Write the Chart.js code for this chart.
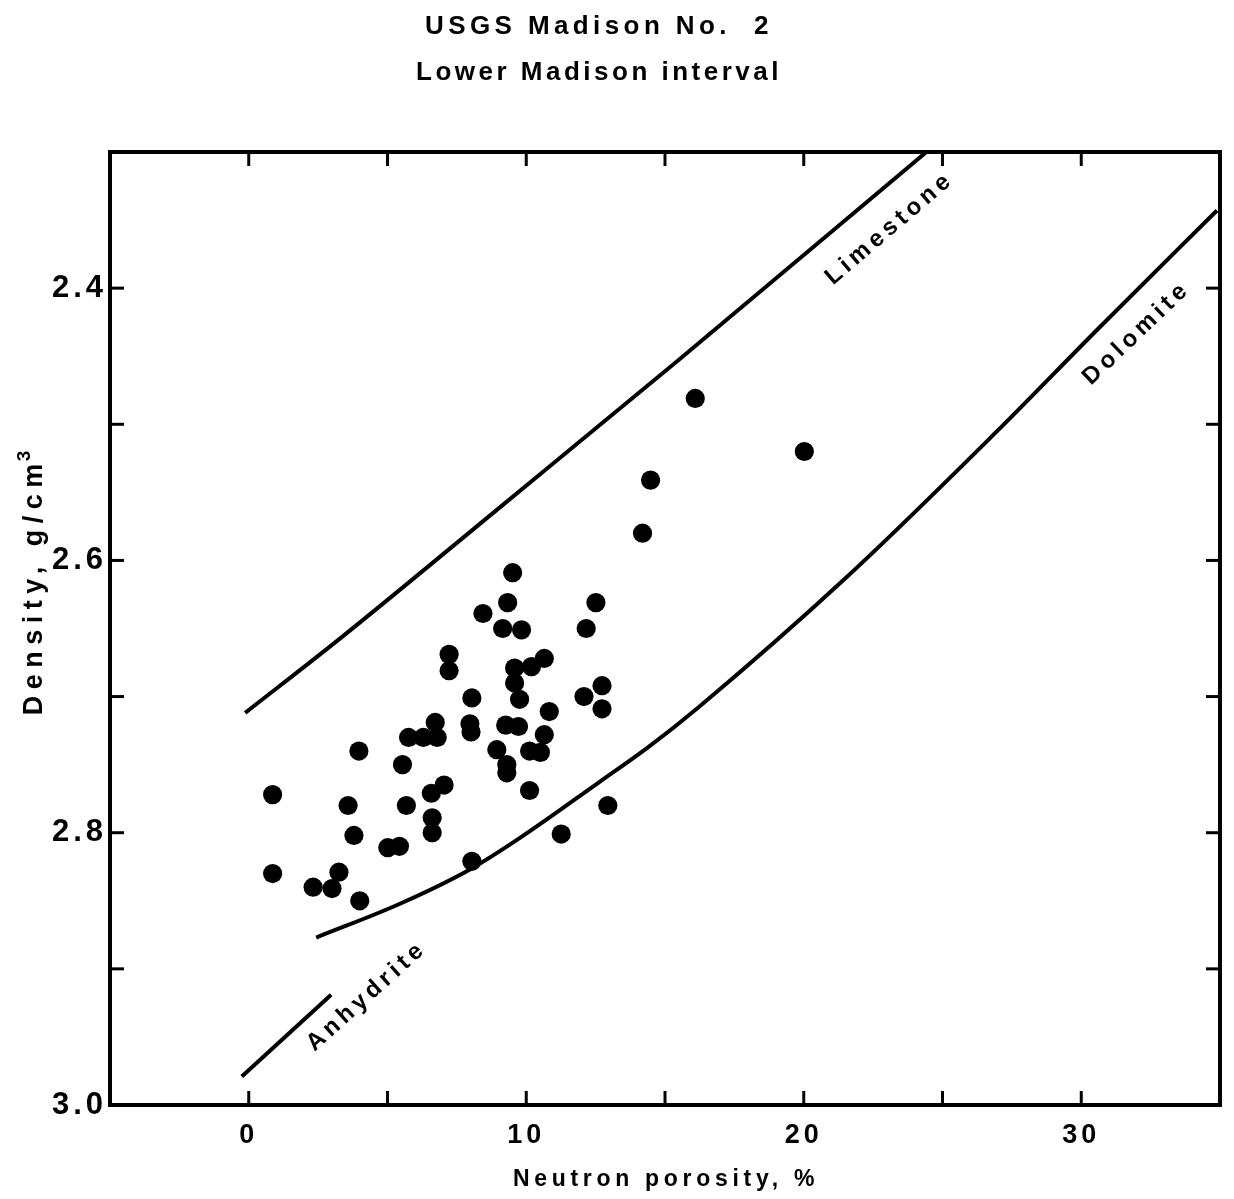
<!DOCTYPE html>
<html><head><meta charset="utf-8">
<script src="https://cdn.jsdelivr.net/npm/chart.js@4.4.1/dist/chart.umd.min.js"></script>
<style>html,body{margin:0;padding:0;background:#fff}</style>
</head><body>
<canvas id="c" width="1234" height="1199" style="display:block;width:1234px;height:1199px"></canvas>
<script>
// ---------- data ----------
const titleLines = ["USGS Madison No.  2", "Lower Madison interval"];
const xAxisTitle = "Neutron porosity, %";
const yAxisTitle = "Density, g/cm";
const yAxisTitleSup = "3";
const xTickLabels = [0, 10, 20, 30];
const yTickLabels = [2.4, 2.6, 2.8, 3.0];

const porosity = [16.09, 20.02, 14.48, 14.19, 9.51, 9.33, 12.51, 8.44, 9.15, 9.83,
  12.16, 7.22, 7.22, 9.58, 10.19, 10.65, 9.58, 9.76, 8.04, 10.83,
  12.08, 12.73, 12.73, 6.72, 5.76, 6.29, 6.79, 7.97, 8.01, 9.26,
  9.72, 10.65, 3.97, 8.94, 10.12, 10.51, 5.54, 9.30, 9.30, 10.12,
  7.04, 6.58, 5.68, 3.58, 6.61, 6.61, 0.86, 3.79, 5.01, 5.43,
  8.04, 11.26, 12.94, 0.86, 2.32, 3.00, 3.25, 4.00];
const density = [2.481, 2.520, 2.541, 2.580, 2.609, 2.631, 2.631, 2.639, 2.650, 2.651,
  2.650, 2.669, 2.681, 2.679, 2.678, 2.672, 2.690, 2.702, 2.701, 2.711,
  2.700, 2.692, 2.709, 2.719, 2.730, 2.730, 2.730, 2.720, 2.726, 2.721,
  2.722, 2.728, 2.740, 2.739, 2.740, 2.741, 2.750, 2.750, 2.756, 2.769,
  2.765, 2.771, 2.780, 2.780, 2.789, 2.800, 2.772, 2.802, 2.811, 2.810,
  2.821, 2.801, 2.780, 2.830, 2.840, 2.841, 2.829, 2.850];

const limestoneX = [-0.13, 3.25, 9.05, 15.48, 24.42];
const limestoneY = [2.712, 2.658, 2.561, 2.453, 2.300];
const dolomiteX = [2.43, 5.47, 7.97, 9.76, 12.62, 14.41, 16.20, 21.56, 26.92, 30.60, 34.89];
const dolomiteY = [2.877, 2.852, 2.827, 2.804, 2.763, 2.737, 2.708, 2.612, 2.506, 2.430, 2.343];
const anhydriteX = [-0.25, 2.97];
const anhydriteY = [2.979, 2.919];

const curveNames = ["Limestone", "Dolomite", "Anhydrite"];
const curveLabelX = [23.1, 32.0, 4.25];
const curveLabelY = [2.356, 2.433, 2.920];
const curveLabelAngle = [-40.5, -43.6, -42];

// ---------- helpers ----------
const pts = (xs, ys) => xs.map((v, i) => ({x: v, y: ys[i]}));
const FONT = "'Liberation Sans', Arial, sans-serif";

const decor = {
  id: 'decor',
  beforeDraw(chart) { chart.ctx.letterSpacing = '4px'; },
  afterDraw(chart) {
    const {ctx, chartArea: a, scales: {x, y}} = chart;
    ctx.save();
    ctx.strokeStyle = '#000';
    ctx.fillStyle = '#000';
    // frame
    ctx.lineWidth = 4;
    ctx.lineJoin = 'miter';
    ctx.strokeRect(a.left, a.top, a.right - a.left, a.bottom - a.top);
    // inward ticks
    ctx.lineWidth = 3;
    const L = 14;
    const seg = (x1, y1, x2, y2) => { ctx.beginPath(); ctx.moveTo(x1, y1); ctx.lineTo(x2, y2); ctx.stroke(); };
    x.ticks.forEach(t => {
      const px = x.getPixelForValue(t.value);
      if (px <= a.left + 3 || px >= a.right - 3) return;
      seg(px, a.bottom, px, a.bottom - L);
      seg(px, a.top, px, a.top + L);
    });
    y.ticks.forEach(t => {
      const py = y.getPixelForValue(t.value);
      if (py <= a.top + 3 || py >= a.bottom - 3) return;
      seg(a.left, py, a.left + L, py);
      seg(a.right, py, a.right - L, py);
    });
    // title (two centred lines)
    ctx.textAlign = 'center';
    ctx.textBaseline = 'middle';
    ctx.font = `bold 26px ${FONT}`;
    ctx.letterSpacing = '4.4px';
    ctx.fillText(titleLines[0], 599, 27);
    ctx.letterSpacing = '3.5px';
    ctx.fillText(titleLines[1], 599, 73);
    // x axis title
    ctx.letterSpacing = '4.7px';
    ctx.font = `bold 23px ${FONT}`;
    ctx.fillText(xAxisTitle, (a.left + a.right) / 2 + 1, 1180);
    // y axis title (rotated)
    ctx.save();
    ctx.translate(42, 581);
    ctx.rotate(-Math.PI / 2);
    ctx.textBaseline = 'alphabetic';
    ctx.textAlign = 'left';
    ctx.letterSpacing = '6.5px';
    ctx.font = `bold 27px ${FONT}`;
    const w1 = ctx.measureText(yAxisTitle).width;
    ctx.font = `bold 19px ${FONT}`;
    ctx.letterSpacing = '0px';
    const w2 = ctx.measureText(yAxisTitleSup).width;
    const start = -(w1 + w2) / 2;
    ctx.letterSpacing = '6.5px';
    ctx.font = `bold 27px ${FONT}`;
    ctx.fillText(yAxisTitle, start, 0);
    ctx.letterSpacing = '0px';
    ctx.font = `bold 19px ${FONT}`;
    ctx.fillText(yAxisTitleSup, start + w1 - 4, -12);
    ctx.restore();
    // curve labels
    ctx.letterSpacing = '4.5px';
    ctx.font = `bold 24px ${FONT}`;
    curveNames.forEach((n, i) => {
      ctx.save();
      ctx.translate(x.getPixelForValue(curveLabelX[i]), y.getPixelForValue(curveLabelY[i]));
      ctx.rotate(curveLabelAngle[i] * Math.PI / 180);
      ctx.textAlign = 'center';
      ctx.textBaseline = 'middle';
      ctx.fillText(n, 0, 0);
      ctx.restore();
    });
    ctx.restore();
  }
};

const lineStyle = {showLine: true, pointRadius: 0, pointHoverRadius: 0, borderColor: '#000',
  borderWidth: 4, cubicInterpolationMode: 'monotone', fill: false};

new Chart(document.getElementById('c'), {
  type: 'scatter',
  data: {
    datasets: [
      {label: 'Samples', data: pts(porosity, density), pointRadius: 9.6, pointHoverRadius: 9.6,
       backgroundColor: '#000', borderWidth: 0},
      Object.assign({label: curveNames[0], data: pts(limestoneX, limestoneY)}, lineStyle),
      Object.assign({label: curveNames[1], data: pts(dolomiteX, dolomiteY)}, lineStyle),
      Object.assign({label: curveNames[2], data: pts(anhydriteX, anhydriteY)}, lineStyle)
    ]
  },
  plugins: [decor],
  options: {
    responsive: false,
    devicePixelRatio: 1,
    animation: false,
    events: [],
    layout: {padding: {top: 152, right: 9, left: 0, bottom: 0}},
    plugins: {legend: {display: false}, tooltip: {enabled: false}, title: {display: false}},
    scales: {
      x: {
        type: 'linear', min: -5, max: 35,
        grid: {display: false, drawTicks: false, tickLength: 0}, border: {display: false},
        ticks: {stepSize: 5, padding: 14, color: '#000', font: {family: FONT, size: 27, weight: 'bold'},
          callback: v => xTickLabels.includes(Math.round(v)) && Math.abs(v - Math.round(v)) < 1e-6 ? String(Math.round(v)) : ''},
        afterFit: s => { s.height = 94; }
      },
      y: {
        type: 'linear', min: 2.3, max: 3.0, reverse: true,
        grid: {display: false, drawTicks: false, tickLength: 0}, border: {display: false},
        ticks: {stepSize: 0.1, padding: 3, color: '#000', font: {family: FONT, size: 31, weight: 'bold'},
          callback: v => yTickLabels.some(t => Math.abs(t - v) < 1e-6) ? v.toFixed(1) : ''},
        afterFit: s => { s.width = 110; }
      }
    }
  }
});
</script>
</body></html>
